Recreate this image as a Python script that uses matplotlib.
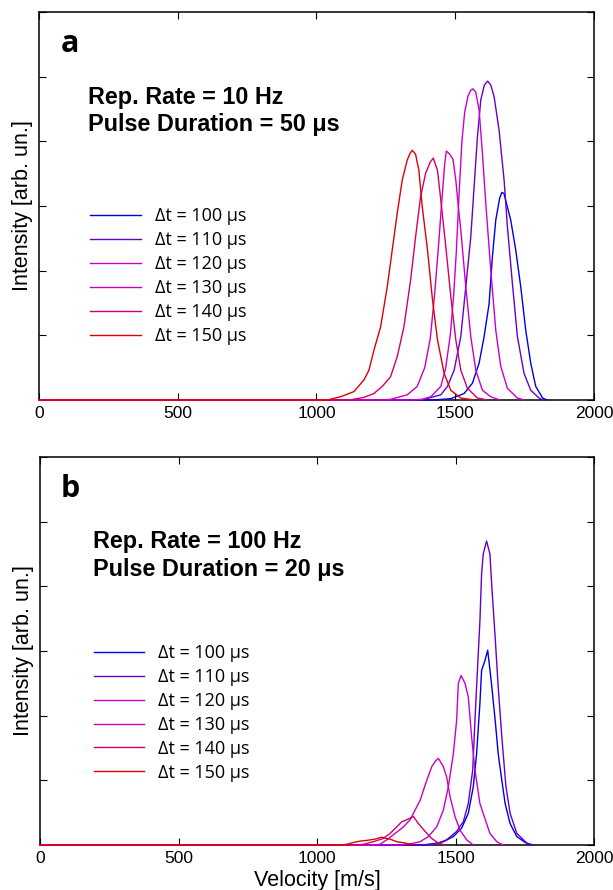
import matplotlib
matplotlib.use('Agg')
import matplotlib.pyplot as plt

plt.rcParams['font.family'] = ['Liberation Sans', 'DejaVu Sans']

labels = ['Δt = 100 μs', 'Δt = 110 μs', 'Δt = 120 μs',
          'Δt = 130 μs', 'Δt = 140 μs', 'Δt = 150 μs']
colors = ['#0000dd', '#6600cc', '#c800d0', '#cc00bb', '#d0006a', '#dd0000']

# panel a : 10 Hz, 50 us
v100a = [0, 1420, 1484, 1532, 1562, 1586, 1604, 1622, 1634, 1646, 1660, 1668, 1676, 1684, 1700, 1718, 1736, 1754, 1772, 1790, 1815, 1830]
i100a = [0, 0, 0.02, 0.10, 0.26, 0.57, 0.98, 1.49, 2.22, 2.78, 3.12, 3.21, 3.19, 3.05, 2.78, 2.32, 1.75, 1.08, 0.57, 0.21, 0.03, 0]
v110a = [0, 1380, 1448, 1472, 1496, 1520, 1538, 1556, 1568, 1580, 1592, 1605, 1617, 1628, 1640, 1658, 1676, 1688, 1706, 1724, 1748, 1772, 1802, 1815]
i110a = [0, 0, 0.08, 0.21, 0.46, 0.98, 1.75, 2.52, 3.30, 4.07, 4.64, 4.87, 4.93, 4.87, 4.69, 4.17, 3.40, 2.68, 1.80, 0.98, 0.41, 0.15, 0.03, 0]
v120a = [0, 1340, 1380, 1412, 1448, 1465, 1482, 1494, 1504, 1514, 1524, 1534, 1546, 1556, 1564, 1574, 1586, 1598, 1610, 1628, 1646, 1664, 1688, 1724, 1750]
i120a = [0, 0, 0.01, 0.05, 0.21, 0.48, 1.00, 1.60, 2.30, 3.20, 4.00, 4.45, 4.70, 4.79, 4.81, 4.76, 4.48, 3.81, 3.04, 2.01, 1.08, 0.52, 0.18, 0.03, 0]
v130a = [0, 1230, 1267, 1327, 1363, 1390, 1410, 1425, 1440, 1452, 1462, 1468, 1480, 1492, 1502, 1512, 1520, 1538, 1556, 1574, 1598, 1628, 1660]
i130a = [0, 0, 0.01, 0.08, 0.21, 0.50, 0.95, 1.60, 2.40, 3.10, 3.65, 3.85, 3.80, 3.72, 3.40, 2.95, 2.63, 1.75, 0.98, 0.46, 0.15, 0.05, 0]
v140a = [0, 1120, 1171, 1207, 1237, 1267, 1291, 1315, 1339, 1357, 1375, 1393, 1410, 1421, 1436, 1448, 1466, 1484, 1502, 1520, 1544, 1580, 1615]
i140a = [0, 0, 0.04, 0.10, 0.21, 0.36, 0.67, 1.13, 1.85, 2.52, 3.14, 3.50, 3.68, 3.74, 3.55, 3.09, 2.37, 1.60, 0.93, 0.46, 0.18, 0.03, 0]
v150a = [0, 1040, 1087, 1135, 1171, 1189, 1207, 1231, 1255, 1273, 1291, 1309, 1327, 1338, 1345, 1357, 1369, 1381, 1400, 1418, 1436, 1460, 1484, 1520, 1568]
i150a = [0, 0, 0.05, 0.13, 0.31, 0.46, 0.77, 1.13, 1.75, 2.32, 2.89, 3.40, 3.71, 3.82, 3.86, 3.80, 3.55, 2.99, 2.32, 1.55, 0.93, 0.41, 0.15, 0.03, 0]

# panel b : 100 Hz, 20 us
v100b = [0, 1380, 1420, 1456, 1492, 1522, 1546, 1564, 1576, 1588, 1594, 1606, 1616, 1627, 1631, 1643, 1654, 1667, 1679, 1697, 1721, 1751, 1770]
i100b = [0, 0, 0.02, 0.05, 0.13, 0.26, 0.49, 0.90, 1.41, 2.19, 2.70, 2.85, 3.01, 2.60, 2.44, 1.93, 1.41, 1.00, 0.64, 0.33, 0.13, 0.04, 0]
v110b = [0, 1400, 1432, 1468, 1504, 1528, 1546, 1562, 1570, 1579, 1588, 1594, 1600, 1612, 1624, 1631, 1643, 1654, 1667, 1682, 1697, 1721, 1757, 1781]
i110b = [0, 0, 0.02, 0.08, 0.21, 0.36, 0.64, 1.16, 1.93, 2.70, 3.47, 4.19, 4.50, 4.70, 4.50, 3.99, 3.21, 2.44, 1.67, 0.90, 0.49, 0.18, 0.03, 0]
v120b = [0, 1300, 1340, 1372, 1402, 1432, 1456, 1474, 1492, 1504, 1510, 1520, 1534, 1546, 1558, 1570, 1588, 1606, 1624, 1649, 1661, 1675]
i120b = [0, 0, 0.02, 0.05, 0.13, 0.28, 0.54, 0.90, 1.41, 1.93, 2.50, 2.62, 2.50, 2.29, 1.67, 1.16, 0.64, 0.41, 0.18, 0.05, 0.02, 0]
v130b = [0, 1200, 1227, 1252, 1282, 1312, 1336, 1354, 1372, 1396, 1414, 1428, 1438, 1456, 1468, 1480, 1498, 1516, 1540, 1564]
i130b = [0, 0, 0.01, 0.08, 0.18, 0.28, 0.39, 0.54, 0.69, 1.00, 1.21, 1.30, 1.34, 1.21, 1.05, 0.75, 0.44, 0.23, 0.08, 0]
v140b = [0, 1140, 1167, 1203, 1239, 1264, 1288, 1306, 1324, 1348, 1366, 1390, 1414, 1438, 1462]
i140b = [0, 0, 0.01, 0.05, 0.10, 0.18, 0.28, 0.36, 0.39, 0.44, 0.33, 0.21, 0.10, 0.03, 0]
v150b = [0, 1080, 1107, 1143, 1156, 1179, 1209, 1233, 1250, 1264, 1288, 1318, 1348]
i150b = [0, 0, 0.01, 0.05, 0.06, 0.07, 0.09, 0.12, 0.10, 0.09, 0.05, 0.03, 0]

panels = [
    ('a', 'Rep. Rate = 10 Hz', 'Pulse Duration = 50 μs',
     [(v100a, i100a), (v110a, i110a), (v120a, i120a), (v130a, i130a), (v140a, i140a), (v150a, i150a)]),
    ('b', 'Rep. Rate = 100 Hz', 'Pulse Duration = 20 μs',
     [(v100b, i100b), (v110b, i110b), (v120b, i120b), (v130b, i130b), (v140b, i140b), (v150b, i150b)]),
]

# axes boxes in figure fraction + text positions (axes fraction)
boxes = [[0.0636, 0.5506, 0.9054, 0.436], [0.0653, 0.0506, 0.9038, 0.436]]
letter_xy = [(0.040, 0.897), (0.037, 0.898)]
text_xy = [(0.088, 0.763, 0.692), (0.096, 0.765, 0.693)]
leg_xy = [(0.092, 0.497), (0.097, 0.518)]

fig = plt.figure(figsize=(6.13, 8.90), dpi=100)

for k, (letter, line1, line2, curves) in enumerate(panels):
    ax = fig.add_axes(boxes[k])
    for (v, i), c, lab in zip(curves, colors, labels):
        ax.plot(v, i, color=c, lw=1.0, label=lab, zorder=3, clip_on=False)
    ax.set_xlim(0, 2000)
    ax.set_ylim(0, 6)
    ax.set_xticks([0, 500, 1000, 1500, 2000])
    ax.set_yticks(range(7))
    ax.set_yticklabels([])
    ax.tick_params(direction='in', length=5, width=0.8, top=True, right=True,
                   labelsize=12.5, pad=4)
    for sp in ax.spines.values():
        sp.set_linewidth(1.1)
    ax.set_ylabel('Intensity [arb. un.]', fontsize=15.5, labelpad=0)
    if k == 1:
        ax.set_xlabel('Velocity [m/s]', fontsize=15.5, labelpad=3)

    ax.text(letter_xy[k][0], letter_xy[k][1], letter, transform=ax.transAxes,
            fontsize=22, fontweight='bold', family=['Open Sans', 'DejaVu Sans'])
    tx, ty1, ty2 = text_xy[k]
    ax.text(tx, ty1, line1, transform=ax.transAxes, fontsize=16.8, fontweight='bold')
    ax.text(tx, ty2, line2, transform=ax.transAxes, fontsize=16.8, fontweight='bold')

    ax.legend(loc='upper left', bbox_to_anchor=leg_xy[k], frameon=False,
              prop={'family': ['Open Sans', 'DejaVu Sans'], 'size': 13},
              handlelength=2.8, handletextpad=0.78, labelspacing=0.33,
              borderpad=0, borderaxespad=0)

fig.savefig('out.png', dpi=100)
